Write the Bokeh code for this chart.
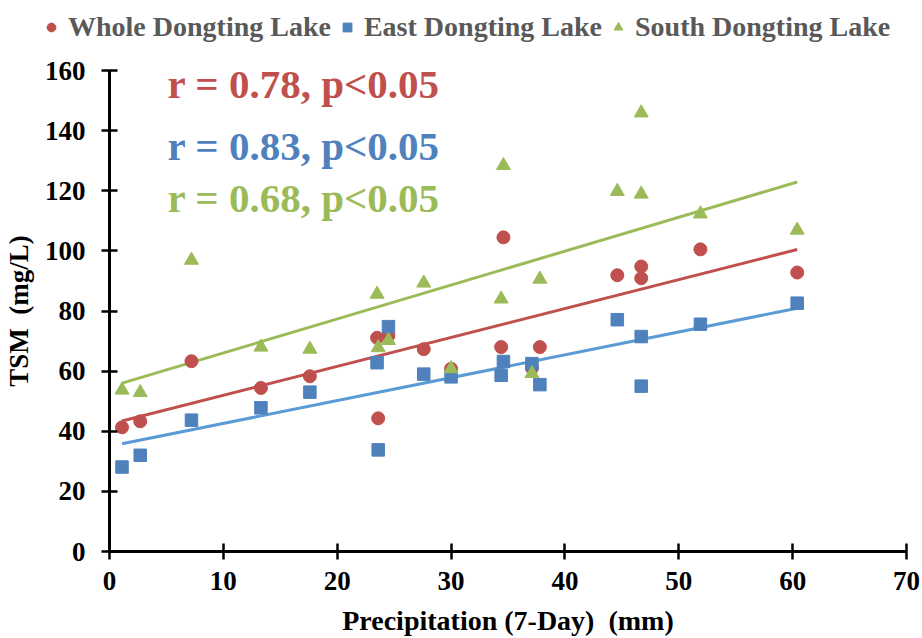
import numpy as np
from bokeh.plotting import figure
from bokeh.layouts import column
from bokeh.models import Legend, LegendItem, Label, FixedTicker, Range1d
from bokeh.embed import file_html
from bokeh.resources import INLINE

# ---- data ----
precip = [1.1, 2.7, 7.2, 13.3, 17.6, 23.5, 23.6, 24.5, 27.6, 30.0,
          34.4, 34.6, 37.1, 37.8, 44.6, 46.7, 46.7, 51.9, 60.4]
whole = [41.3, 43.3, 63.3, 54.4, 58.3, 71.1, 44.3, 71.8, 67.3, 60.8,
         68.0, 104.5, 61.0, 68.0, 91.9, 94.8, 90.9, 100.5, 92.8]
east = [28.1, 32.0, 43.7, 47.8, 53.0, 62.8, 33.8, 74.8, 59.0, 58.1,
        58.6, 63.2, 62.5, 55.5, 77.1, 71.5, 55.0, 75.6, 82.6]
south = [53.7, 52.9, 96.9, 68.0, 67.3, 85.6, 67.8, 70.2, 89.3, 60.8,
         84.0, 128.4, 59.2, 90.6, 119.8, 145.9, 118.9, 112.3, 106.9]
series_names = ["Whole Dongting Lake", "East Dongting Lake", "South Dongting Lake"]
r_texts = ["r = 0.78, p<0.05", "r = 0.83, p<0.05", "r = 0.68, p<0.05"]
x_ticks = [0, 10, 20, 30, 40, 50, 60, 70]
y_ticks = [0, 20, 40, 60, 80, 100, 120, 140, 160]

RED = "#C0504D"
BLUE = "#4F81BD"
BLUE_LINE = "#5B9BD5"
GREEN = "#9BBB59"
FONT = "Liberation Serif"
NB = "\u00a0"

p = figure(width=920, height=592, output_backend="svg", toolbar_location=None,
           x_range=Range1d(0, 70), y_range=Range1d(0, 160),
           min_border_left=108, min_border_right=14, min_border_bottom=84,
           min_border_top=24)
p.grid.visible = False
p.outline_line_color = None
p.background_fill_color = "white"
p.border_fill_color = "white"

for ax in (p.xaxis[0], p.yaxis[0]):
    ax.axis_line_width = 3
    ax.axis_line_color = "black"
    ax.major_tick_line_width = 2.5
    ax.major_tick_line_color = "black"
    ax.major_tick_in = 8
    ax.major_tick_out = 8
    ax.minor_tick_line_color = None
    ax.major_label_text_font = FONT
    ax.major_label_text_font_style = "bold"
    ax.major_label_text_font_size = "27px"
    ax.major_label_text_color = "black"
    ax.axis_label_text_font = FONT
    ax.axis_label_text_font_style = "bold"
    ax.axis_label_text_color = "black"

p.xaxis.axis_label_text_font_size = "28px"
p.yaxis.axis_label_text_font_size = "27px"
p.xaxis.ticker = FixedTicker(ticks=x_ticks)
p.yaxis.ticker = FixedTicker(ticks=y_ticks)
p.xaxis.axis_label = "Precipitation" + NB + "(7-Day)" + NB + NB + "(mm)"
p.yaxis.axis_label = "TSM" + NB + NB + "(mg/L)"
p.xaxis.major_label_standoff = 12
p.yaxis.major_label_standoff = 16
p.xaxis.axis_label_standoff = 12
p.yaxis.axis_label_standoff = 8

x = np.array(precip)
xl = np.array([min(precip), max(precip)])
line_cols = [RED, BLUE_LINE, GREEN]
for ys, lc in zip([whole, east, south], line_cols):
    k, b = np.polyfit(x, np.array(ys), 1)
    p.line(xl, k * xl + b, line_color=lc, line_width=3)

r_red = p.scatter(precip, whole, marker="circle", size=13, fill_color=RED, line_color=RED)
r_blue = p.scatter(precip, east, marker="square", size=12.5, fill_color=BLUE, line_color=BLUE)
r_green = p.scatter(precip, south, marker="triangle", size=14, fill_color=GREEN, line_color=GREEN)

for t, c, yv in zip(r_texts, [RED, BLUE, GREEN], [155.6, 135.0, 117.5]):
    p.add_layout(Label(x=5.1, y=yv, text=t, text_color=c, text_font=FONT,
                       text_font_style="bold", text_font_size="41px",
                       text_baseline="middle"))

# ---- legend strip on top ----
lg = figure(width=920, height=46, output_backend="svg", toolbar_location=None,
            x_range=Range1d(0, 1), y_range=Range1d(0, 1),
            x_axis_location=None, y_axis_location=None,
            min_border_left=0, min_border_right=0, min_border_top=0, min_border_bottom=0)
lg.frame_align = False
lg.grid.visible = False
lg.outline_line_color = None
markers = [("circle", RED), ("square", BLUE), ("triangle", GREEN)]
items = []
for name, (mk, col) in zip(series_names, markers):
    rr = lg.scatter([-5.0], [-5.0], marker=mk, size=10, fill_color=col, line_color=col)
    items.append(LegendItem(label=name, renderers=[rr]))
legend = Legend(items=items, orientation="horizontal", location=(40, 3),
                label_text_font=FONT, label_text_font_style="bold",
                label_text_font_size="28px", label_text_color="#595959",
                glyph_width=22, glyph_height=26, spacing=5, label_standoff=6,
                padding=0, margin=0, border_line_color=None,
                background_fill_alpha=0)
lg.add_layout(legend, "center")

open("out.html", "w").write(file_html(column(lg, p, spacing=0), INLINE))
